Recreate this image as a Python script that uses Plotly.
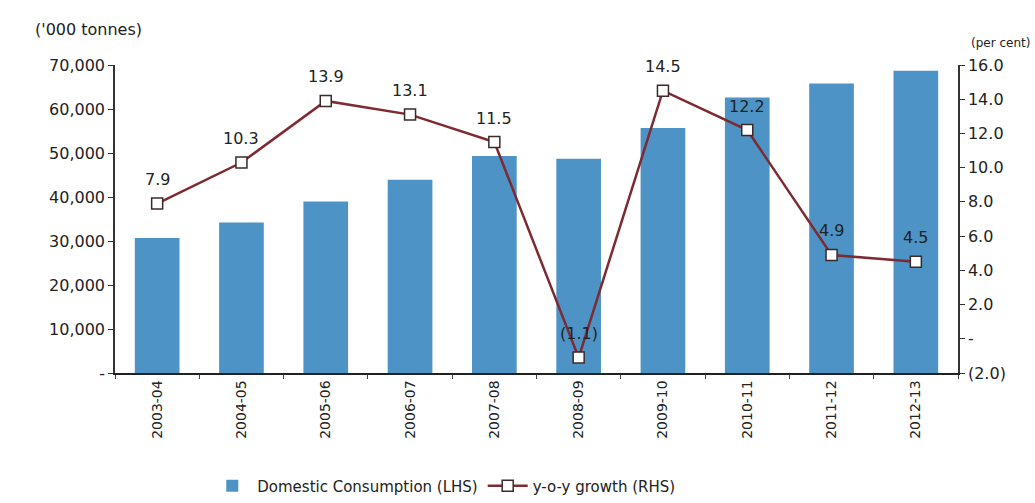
import plotly.graph_objects as go

# Fiscal years on the category axis
years = ["2003-04", "2004-05", "2005-06", "2006-07", "2007-08",
         "2008-09", "2009-10", "2010-11", "2011-12", "2012-13"]

# Domestic consumption, '000 tonnes (left axis)
consumption = [30700, 34200, 39000, 43900, 49300,
               48700, 55700, 62600, 65800, 68700]

# Year-on-year growth, per cent (right axis)
growth = [7.9, 10.3, 13.9, 13.1, 11.5, -1.1, 14.5, 12.2, 4.9, 4.5]

# Axis tick values and their printed labels
left_ticks = [0, 10000, 20000, 30000, 40000, 50000, 60000, 70000]
left_labels = ["-", "10,000", "20,000", "30,000", "40,000", "50,000", "60,000", "70,000"]
right_ticks = [-2, 0, 2, 4, 6, 8, 10, 12, 14, 16]
right_labels = ["(2.0)", "-", "2.0", "4.0", "6.0", "8.0", "10.0", "12.0", "14.0", "16.0"]

BAR_BLUE = "#4d93c6"
LINE_RED = "#7e2a31"
TEXT = "#222222"
FONT = "DejaVu Sans"


def fmt_growth(v):
    return f"({abs(v):.1f})" if v < 0 else f"{v:.1f}"


fig = go.Figure()

fig.add_trace(go.Bar(
    x=years, y=consumption,
    name="Domestic Consumption (LHS)",
    marker=dict(color=BAR_BLUE, line=dict(width=0)),
    yaxis="y",
))

fig.add_trace(go.Scatter(
    x=years, y=growth,
    name="y-o-y growth (RHS)",
    mode="lines+markers",
    line=dict(color=LINE_RED, width=2.5),
    marker=dict(symbol="square", size=11, color="white",
                line=dict(color="#3a2a2a", width=1.5)),
    yaxis="y2",
    cliponaxis=False,
))

# Value labels above each growth point
for yr, g in zip(years, growth):
    fig.add_annotation(
        x=yr, y=g, xref="x", yref="y2",
        text=fmt_growth(g), showarrow=False,
        yshift=24, font=dict(family=FONT, size=16, color=TEXT),
    )

# Unit captions above both value axes
fig.add_annotation(
    xref="paper", yref="paper", x=-0.097, y=1.115,
    xanchor="left", yanchor="middle", showarrow=False,
    text="('000 tonnes)", font=dict(family=FONT, size=16, color=TEXT),
)
fig.add_annotation(
    xref="paper", yref="paper", x=1.013, y=1.07,
    xanchor="left", yanchor="middle", showarrow=False,
    text="(per cent)", font=dict(family=FONT, size=12, color=TEXT),
)

fig.update_layout(
    width=1035, height=503,
    margin=dict(l=115, r=77, t=65, b=130, autoexpand=False),
    paper_bgcolor="white", plot_bgcolor="white",
    bargap=0.47,
    showlegend=True,
    legend=dict(
        orientation="h", x=0.39, y=-0.367,
        xanchor="center", yanchor="middle",
        font=dict(family=FONT, size=15, color=TEXT),
        itemwidth=40, tracegroupgap=0,
    ),
    xaxis=dict(
        type="category", range=[-0.5, 9.5],
        showline=True, linecolor="#222", linewidth=1.5,
        ticks="outside", tickson="boundaries", ticklen=4, tickcolor="#444",
        tickangle=-90, showgrid=False,
        tickfont=dict(family=FONT, size=14, color=TEXT),
    ),
    yaxis=dict(
        range=[0, 70000], tickvals=left_ticks, ticktext=left_labels,
        showline=True, linecolor="#333", linewidth=1.5,
        ticks="outside", ticklen=5, tickcolor="#333",
        showgrid=False, zeroline=False,
        tickfont=dict(family=FONT, size=16, color=TEXT),
    ),
    yaxis2=dict(
        range=[-2, 16], tickvals=right_ticks, ticktext=right_labels,
        overlaying="y", side="right",
        showline=True, linecolor="#333", linewidth=1.5,
        ticks="outside", ticklen=5, tickcolor="#333",
        showgrid=False, zeroline=False,
        tickfont=dict(family=FONT, size=16, color=TEXT),
    ),
)

fig.write_html("out.html")
